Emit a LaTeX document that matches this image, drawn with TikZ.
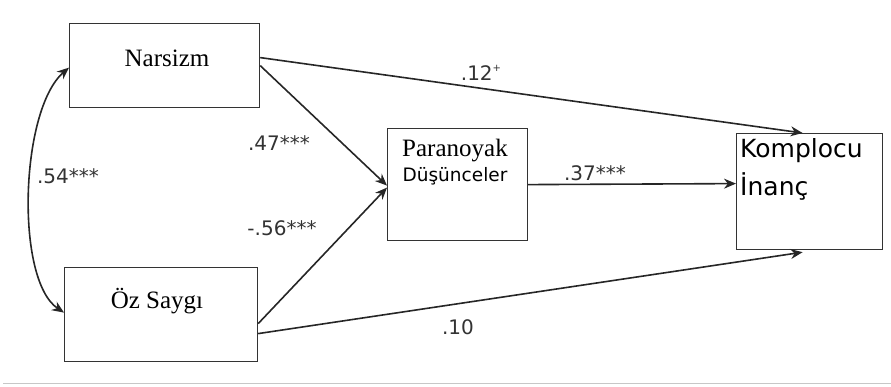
\documentclass[tikz,border=0pt]{standalone}
\usepackage{fontspec}
\setmainfont{Liberation Serif}
\newfontfamily\dvs{DejaVu Sans}
\usetikzlibrary{arrows.meta}
\tikzset{
  box/.style={draw=black!80, line width=1.2pt, fill=white, inner sep=0pt, anchor=north west},
  serif/.style={font=\fontsize{25}{28}\selectfont, inner sep=0pt},
  sans/.style={font=\dvs\fontsize{19}{22}\selectfont, inner sep=0pt},
  coef/.style={font=\dvs\fontsize{20}{23}\selectfont, text=black!80, inner sep=0pt},
  path/.style={line width=1.6pt, draw=black!85, -{Stealth[length=12pt,width=10pt]}},
}
\begin{document}
\begin{tikzpicture}[x=1pt,y=-1pt]
\useasboundingbox (0,0) rectangle (891,387);
\draw[black!22, line width=1pt] (3,383) -- (891,383);
% boxes
\node[box, minimum width=190pt, minimum height=84pt] (nar) at (69,23) {};
\node[box, minimum width=193pt, minimum height=94pt] (oz) at (64,267) {};
\node[box, minimum width=140pt, minimum height=112pt] (par) at (387,128) {};
\node[box, minimum width=146pt, minimum height=116pt] (kom) at (736,133) {};
% texts
\node[serif] (tnar) at (167,58) {Narsizm};
\node[serif] (toz) at (157,301) {Öz Saygı};
\node[serif] (tpar1) at (455,151) {Paranoyak};
\node[sans, font=\dvs\fontsize{18.5}{21}\selectfont] (tpar2) at (455,176) {Düşünceler};
\node[sans, font=\dvs\fontsize{25}{28}\selectfont, anchor=west] (tkom1) at (740,151) {Komplocu};
\node[sans, font=\dvs\fontsize{25}{28}\selectfont, anchor=west] (tkom2) at (740,186) {İnanç};
% connectors
\draw[path] ([yshift=8pt]nar.east) -- ([xshift=-7pt]kom.north);
\draw[path] (nar.east) -- ([yshift=-1pt]par.west);
\draw[path] ([yshift=-9pt]oz.east) -- ([yshift=-3pt]par.west);
\draw[path] ([yshift=-19pt]oz.east) -- ([xshift=-7pt,yshift=-2pt]kom.south);
\draw[path] (par.east) -- ([yshift=8pt]kom.west);
\draw[line width=1.6pt, draw=black!85, {Stealth[length=12pt,width=10pt]}-{Stealth[length=12pt,width=10pt]}]
  ([yshift=-2pt]nar.west) .. controls (20,110) and (15,280) .. ([yshift=2pt]oz.west);
% coefficients
\node[coef] (c12) at (481,73) {.12\raisebox{0.45em}{\fontsize{10}{10}\selectfont +}};
\node[coef] (c47) at (279,143) {.47***};
\node[coef] (c56) at (282,228) {-.56***};
\node[coef] (c54) at (68,176) {.54***};
\node[coef] (c37) at (595,173) {.37***};
\node[coef] (c10) at (458,327) {.10};
\end{tikzpicture}
\end{document}
